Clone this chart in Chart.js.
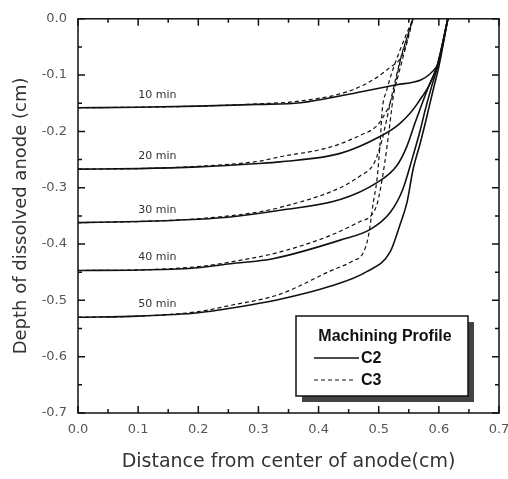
<!DOCTYPE html>
<html>
<head>
<meta charset="utf-8">
<script src="https://cdn.jsdelivr.net/npm/chart.js@4.4.1/dist/chart.umd.min.js"></script>
<style>
  html, body { margin: 0; padding: 0; background: #fff; }
</style>
</head>
<body>
<canvas id="profileChart" width="508" height="479"></canvas>
<script>
// machining time labels for each pair of curves
const timeLabels = ['10 min', '20 min', '30 min', '40 min', '50 min'];
const xTickValues = [0, 0.1, 0.2, 0.3, 0.4, 0.5, 0.6, 0.7];

// C2 profiles (solid)
const c2x10 = [0, 0.1, 0.2, 0.3, 0.37, 0.45, 0.53, 0.597, 0.615];
const c2y10 = [-0.158, -0.157, -0.155, -0.152, -0.149, -0.134, -0.117, -0.084, 0];
const c2x20 = [0, 0.1, 0.2, 0.3, 0.336, 0.436, 0.502, 0.535, 0.564, 0.597, 0.615];
const c2y20 = [-0.267, -0.266, -0.263, -0.257, -0.254, -0.239, -0.209, -0.186, -0.151, -0.084, 0];
const c2x30 = [0, 0.1, 0.2, 0.253, 0.336, 0.436, 0.497, 0.53, 0.547, 0.56, 0.572, 0.585, 0.597, 0.615];
const c2y30 = [-0.362, -0.36, -0.356, -0.352, -0.34, -0.321, -0.291, -0.261, -0.226, -0.186, -0.151, -0.115, -0.084, 0];
const c2x40 = [0, 0.1, 0.2, 0.253, 0.324, 0.436, 0.486, 0.519, 0.54, 0.555, 0.569, 0.577, 0.588, 0.597, 0.615];
const c2y40 = [-0.447, -0.446, -0.442, -0.435, -0.426, -0.393, -0.374, -0.344, -0.303, -0.251, -0.198, -0.163, -0.12, -0.088, 0];
const c2x50 = [0, 0.1, 0.2, 0.253, 0.336, 0.419, 0.48, 0.519, 0.535, 0.547, 0.557, 0.569, 0.58, 0.585, 0.592, 0.6, 0.615];
const c2y50 = [-0.53, -0.528, -0.522, -0.514, -0.498, -0.475, -0.449, -0.414, -0.367, -0.326, -0.268, -0.221, -0.174, -0.151, -0.12, -0.085, 0];

// C3 profiles (dashed)
const c3x10 = [0, 0.1, 0.2, 0.3, 0.369, 0.452, 0.497, 0.519, 0.535, 0.544, 0.552, 0.557];
const c3y10 = [-0.158, -0.157, -0.155, -0.151, -0.146, -0.128, -0.104, -0.086, -0.072, -0.051, -0.018, 0];
const c3x20 = [0, 0.1, 0.2, 0.3, 0.336, 0.419, 0.469, 0.497, 0.507, 0.519, 0.53, 0.54, 0.55, 0.557];
const c3y20 = [-0.267, -0.266, -0.262, -0.253, -0.245, -0.228, -0.207, -0.19, -0.175, -0.15, -0.11, -0.07, -0.03, 0];
const c3x30 = [0, 0.1, 0.2, 0.3, 0.336, 0.436, 0.469, 0.491, 0.503, 0.513, 0.522, 0.532, 0.545, 0.557];
const c3y30 = [-0.362, -0.36, -0.355, -0.343, -0.335, -0.3, -0.279, -0.259, -0.225, -0.18, -0.135, -0.09, -0.04, 0];
const c3x40 = [0, 0.1, 0.2, 0.253, 0.336, 0.419, 0.469, 0.487, 0.497, 0.502, 0.51, 0.516, 0.524, 0.53, 0.537, 0.548, 0.557];
const c3y40 = [-0.447, -0.446, -0.44, -0.432, -0.414, -0.385, -0.36, -0.35, -0.33, -0.307, -0.256, -0.209, -0.14, -0.104, -0.068, -0.03, 0];
const c3x50 = [0, 0.1, 0.2, 0.253, 0.336, 0.419, 0.457, 0.474, 0.483, 0.491, 0.497, 0.502, 0.506, 0.513, 0.522, 0.532, 0.545, 0.557];
const c3y50 = [-0.53, -0.528, -0.52, -0.509, -0.489, -0.448, -0.43, -0.416, -0.385, -0.326, -0.286, -0.226, -0.16, -0.128, -0.095, -0.065, -0.03, 0];

const c2Sets = [[c2x10, c2y10], [c2x20, c2y20], [c2x30, c2y30], [c2x40, c2y40], [c2x50, c2y50]];
const c3Sets = [[c3x10, c3y10], [c3x20, c3y20], [c3x30, c3y30], [c3x40, c3y40], [c3x50, c3y50]];

function toPoints(xs, ys) {
  return xs.map((x, i) => ({ x: x, y: ys[i] }));
}

const datasets = [];
c2Sets.forEach(function (s, i) {
  datasets.push({
    label: 'C2 ' + timeLabels[i],
    data: toPoints(s[0], s[1]),
    borderColor: '#111',
    borderWidth: 1.6,
    pointRadius: 0,
    showLine: true,
    cubicInterpolationMode: 'monotone'
  });
});
c3Sets.forEach(function (s, i) {
  datasets.push({
    label: 'C3 ' + timeLabels[i],
    data: toPoints(s[0], s[1]),
    borderColor: '#111',
    borderWidth: 1.2,
    borderDash: [4, 3],
    pointRadius: 0,
    showLine: true,
    cubicInterpolationMode: 'monotone'
  });
});

// frame box with inward ticks on all four sides
const framePlugin = {
  id: 'frame',
  afterDatasetsDraw(chart) {
    const { ctx, chartArea: a, scales } = chart;
    ctx.save();
    ctx.strokeStyle = '#111';
    ctx.lineWidth = 1.5;
    ctx.strokeRect(a.left, a.top, a.right - a.left, a.bottom - a.top);
    ctx.beginPath();
    for (let i = 0; i <= 14; i++) {
      const len = i % 2 === 0 ? 7 : 4;
      const px = scales.x.getPixelForValue(i * 0.05);
      ctx.moveTo(px, a.bottom); ctx.lineTo(px, a.bottom - len);
      ctx.moveTo(px, a.top); ctx.lineTo(px, a.top + len);
      const py = scales.y.getPixelForValue(-i * 0.05);
      ctx.moveTo(a.left, py); ctx.lineTo(a.left + len, py);
      ctx.moveTo(a.right, py); ctx.lineTo(a.right - len, py);
    }
    ctx.stroke();

    // time annotations above the flat part of each curve
    ctx.fillStyle = '#333';
    ctx.font = '11px "DejaVu Sans"';
    ctx.textAlign = 'center';
    ctx.textBaseline = 'middle';
    c2Sets.forEach(function (s, i) {
      const tx = scales.x.getPixelForValue(0.132);
      const ty = scales.y.getPixelForValue(s[1][0]) - 13;
      ctx.fillText(timeLabels[i], tx, ty);
    });
    ctx.restore();
  }
};

// boxed legend with drop shadow, lower right of the plot
const legendPlugin = {
  id: 'boxLegend',
  afterDraw(chart) {
    const { ctx, chartArea: a } = chart;
    const w = 172, h = 80;
    const x = a.right - 31 - w, y = a.bottom - 17 - h;
    ctx.save();
    ctx.fillStyle = '#444';
    ctx.fillRect(x + 6, y + 6, w, h);
    ctx.fillStyle = '#fff';
    ctx.fillRect(x, y, w, h);
    ctx.strokeStyle = '#111';
    ctx.lineWidth = 1.5;
    ctx.strokeRect(x, y, w, h);

    ctx.fillStyle = '#111';
    ctx.font = 'bold 16px "Liberation Sans"';
    ctx.textAlign = 'center';
    ctx.textBaseline = 'middle';
    ctx.fillText('Machining Profile', x + 89, y + 21);

    ctx.textAlign = 'left';
    ctx.lineWidth = 1.3;
    ctx.beginPath();
    ctx.moveTo(x + 18, y + 42); ctx.lineTo(x + 63, y + 42);
    ctx.stroke();
    ctx.fillText('C2', x + 65, y + 43);

    ctx.setLineDash([4, 3]);
    ctx.lineWidth = 1.2;
    ctx.beginPath();
    ctx.moveTo(x + 18, y + 64); ctx.lineTo(x + 60, y + 64);
    ctx.stroke();
    ctx.setLineDash([]);
    ctx.fillText('C3', x + 65, y + 65);
    ctx.restore();
  }
};

const ctx = document.getElementById('profileChart').getContext('2d');
const profileChart = new Chart(ctx, {
  type: 'scatter',
  data: { datasets: datasets },
  options: {
    responsive: false,
    animation: false,
    layout: {
      padding: { top: 14, right: 9, left: 0, bottom: 0 }
    },
    scales: {
      x: {
        type: 'linear',
        min: 0,
        max: 0.7,
        afterFit: function (scale) {
          scale.height = 66;
          scale.paddingRight = 0;   // let the 0.7 label run past the edge like the scan
        },
        afterBuildTicks: function (scale) {
          scale.ticks = xTickValues.map(v => ({ value: v }));
        },
        grid: { display: false, drawTicks: false },
        border: { display: false },
        ticks: {
          padding: 9,
          color: '#555',
          font: { family: 'DejaVu Sans', size: 13 },
          callback: v => v.toFixed(1)
        },
        title: {
          display: true,
          text: 'Distance from center of anode(cm)',
          color: '#333',
          font: { family: 'DejaVu Sans', size: 19 },
          padding: { top: 0, bottom: 6 }
        }
      },
      y: {
        type: 'linear',
        min: -0.7,
        max: 0,
        afterFit: function (scale) { scale.width = 78; },
        grid: { display: false, drawTicks: false },
        border: { display: false },
        ticks: {
          stepSize: 0.1,
          padding: 11,
          color: '#555',
          font: { family: 'DejaVu Sans', size: 13 },
          callback: v => v.toFixed(1)
        },
        title: {
          display: true,
          text: 'Depth of dissolved anode (cm)',
          color: '#333',
          font: { family: 'DejaVu Sans', size: 18 },
          padding: { top: 11, bottom: 0 }
        }
      }
    },
    plugins: {
      legend: { display: false },
      tooltip: { enabled: false }
    }
  },
  plugins: [framePlugin, legendPlugin]
});
</script>
</body>
</html>
